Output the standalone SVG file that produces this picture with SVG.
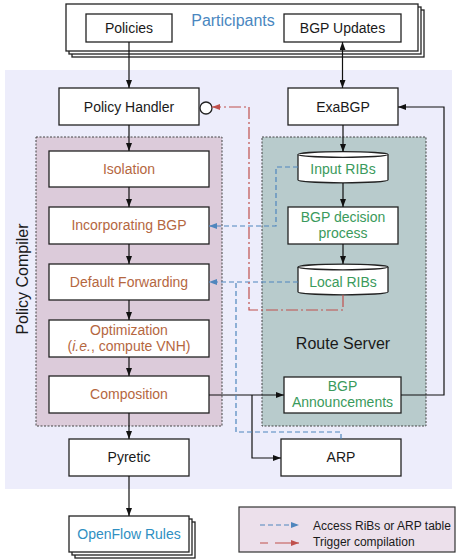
<svg xmlns="http://www.w3.org/2000/svg" width="456" height="559" viewBox="0 0 456 559">
<defs>
<style>
text{font-family:"Liberation Sans",Arial,sans-serif;font-size:14px;fill:#1a1a1a;text-anchor:middle}
.box{fill:#fff;stroke:#222;stroke-width:1.3}
.org{fill:#b5673f}
.grn{fill:#3a9a5c}
.cont{stroke:#444;stroke-width:1;stroke-dasharray:2,1.5}
.ln{fill:none;stroke:#111;stroke-width:1.2}
.bl{fill:none;stroke:#4f86bd;stroke-width:1.2;stroke-dasharray:5,3}
.rd{fill:none;stroke:#c0504d;stroke-width:1.2;stroke-dasharray:12,3,2,3}
</style>
<marker id="ab" viewBox="0 0 8 6" refX="8" refY="3" markerWidth="8" markerHeight="6" markerUnits="userSpaceOnUse" orient="auto-start-reverse"><path d="M0,0L8,3L0,6z" fill="#111"/></marker>
<marker id="abl" viewBox="0 0 8 6" refX="8" refY="3" markerWidth="8" markerHeight="6" markerUnits="userSpaceOnUse" orient="auto"><path d="M0,0L8,3L0,6z" fill="#4f86bd"/></marker>
<marker id="ard" viewBox="0 0 8 6" refX="8" refY="3" markerWidth="8" markerHeight="6" markerUnits="userSpaceOnUse" orient="auto"><path d="M0,0L8,3L0,6z" fill="#c0504d"/></marker>
</defs>
<rect x="0" y="0" width="456" height="559" fill="#fff"/>
<rect x="5" y="70" width="447" height="419" fill="#ededfb"/>

<g id="participants">
<rect class="box" x="72" y="10" width="352" height="47"/>
<rect class="box" x="69" y="7" width="352" height="47"/>
<rect class="box" x="66" y="4" width="352" height="47"/>
<text x="233" y="26" style="font-size:16px;fill:#4a87c0">Participants</text>
</g>
<g id="policies"><rect class="box" x="86" y="14" width="86" height="28"/><text x="129" y="33">Policies</text></g>
<g id="bgp-updates"><rect class="box" x="284" y="14" width="117" height="28"/><text x="342.5" y="33">BGP Updates</text></g>

<g id="policy-compiler">
<rect class="cont" x="36" y="137" width="186" height="289" fill="#dccbda"/>
<text transform="translate(28,279) rotate(-90)" style="font-size:16px">Policy Compiler</text>
</g>
<g id="route-server">
<rect class="cont" x="262" y="137" width="164" height="289" fill="#b8cbcc"/>
<text x="343" y="349" style="font-size:16px">Route Server</text>
</g>

<g id="policy-handler"><rect class="box" x="59" y="88" width="140" height="37"/><text x="129" y="112">Policy Handler</text>
<circle cx="206" cy="108" r="6" fill="#fff" stroke="#222" stroke-width="1.3"/></g>
<g id="exabgp"><rect class="box" x="288" y="88" width="110" height="37"/><text x="343" y="112">ExaBGP</text></g>

<g id="isolation"><rect class="box" x="49" y="151" width="160" height="36"/><text class="org" x="129" y="174">Isolation</text></g>
<g id="incorporating-bgp"><rect class="box" x="49" y="207" width="160" height="37"/><text class="org" x="129" y="230">Incorporating BGP</text></g>
<g id="default-forwarding"><rect class="box" x="49" y="264" width="160" height="36"/><text class="org" x="129" y="287">Default Forwarding</text></g>
<g id="optimization"><rect class="box" x="49" y="320" width="160" height="37"/><text class="org" x="129" y="335">Optimization</text><text class="org" x="129" y="351">(<tspan font-style="italic">i.e.</tspan>, compute VNH)</text></g>
<g id="composition"><rect class="box" x="49" y="376" width="160" height="37"/><text class="org" x="129" y="399">Composition</text></g>
<g id="pyretic"><rect class="box" x="69" y="439" width="120" height="37"/><text x="129" y="462">Pyretic</text></g>

<g id="input-ribs">
<path class="box" d="M298,154.5V180A45,2.8 0 0 0 388,180V154.5A45,2.8 0 0 0 298,154.5Z"/>
<path class="box" fill="none" d="M298,154.5A45,2.8 0 0 0 388,154.5"/>
<text class="grn" x="343" y="174">Input RIBs</text>
</g>
<g id="bgp-decision"><rect class="box" x="288" y="207" width="110" height="37"/><text class="grn" x="343" y="222">BGP decision</text><text class="grn" x="343" y="238">process</text></g>
<g id="local-ribs">
<path class="box" d="M298,267V292A45,2.8 0 0 0 388,292V267A45,2.8 0 0 0 298,267Z"/>
<path class="box" fill="none" d="M298,267A45,2.8 0 0 0 388,267"/>
<text class="grn" x="343" y="287">Local RIBs</text>
</g>
<g id="bgp-announcements"><rect class="box" x="284" y="377" width="117" height="36"/><text class="grn" x="342.5" y="391">BGP</text><text class="grn" x="342.5" y="407">Announcements</text></g>
<g id="arp"><rect class="box" x="281" y="439" width="120" height="37"/><text x="341" y="462">ARP</text></g>

<g id="openflow-rules">
<rect class="box" x="75" y="522" width="120" height="36"/>
<rect class="box" x="72" y="519" width="120" height="36"/>
<rect class="box" x="69" y="516" width="120" height="36"/>
<text x="129" y="539" style="fill:#2f8fc2">OpenFlow Rules</text>
</g>

<g id="connectors">
<path class="ln" d="M129,42V88" marker-end="url(#ab)"/>
<path class="ln" d="M342.5,42V88" marker-start="url(#ab)" marker-end="url(#ab)"/>
<path class="ln" d="M129,125V151" marker-end="url(#ab)"/>
<path class="ln" d="M129,187V207" marker-end="url(#ab)"/>
<path class="ln" d="M129,244V264" marker-end="url(#ab)"/>
<path class="ln" d="M129,300V320" marker-end="url(#ab)"/>
<path class="ln" d="M129,357V376" marker-end="url(#ab)"/>
<path class="ln" d="M129,413V439" marker-end="url(#ab)"/>
<path class="ln" d="M129,476V516" marker-end="url(#ab)"/>
<path class="ln" d="M343,125V152" marker-end="url(#ab)"/>
<path class="ln" d="M343,183V207" marker-end="url(#ab)"/>
<path class="ln" d="M343,244V264" marker-end="url(#ab)"/>
<path class="ln" d="M209,395H284" marker-end="url(#ab)"/>
<path class="ln" d="M252,395V458H281" marker-end="url(#ab)"/>
<path class="ln" d="M401,395H444V107H398" marker-end="url(#ab)"/>
<path class="bl" d="M298,167H276V226H209" marker-end="url(#abl)"/>
<path class="bl" d="M298,282H209" marker-end="url(#abl)"/>
<path class="bl" d="M341,439V432H236V282"/>
<path class="rd" d="M343,295V310H249V107H212" marker-end="url(#ard)"/>
</g>

<g id="legend">
<rect x="239" y="507" width="216" height="45" fill="#ece0eb" stroke="#333" stroke-width="1.2"/>
<path class="bl" d="M260,525H299" marker-end="url(#abl)"/>
<path d="M260,543H299" fill="none" stroke="#c0504d" stroke-width="1.2" stroke-dasharray="8,7,30" marker-end="url(#ard)"/>
<text x="313" y="530" style="font-size:12px;text-anchor:start">Access RiBs or ARP table</text>
<text x="313" y="546" style="font-size:12px;text-anchor:start">Trigger compilation</text>
</g>
</svg>
